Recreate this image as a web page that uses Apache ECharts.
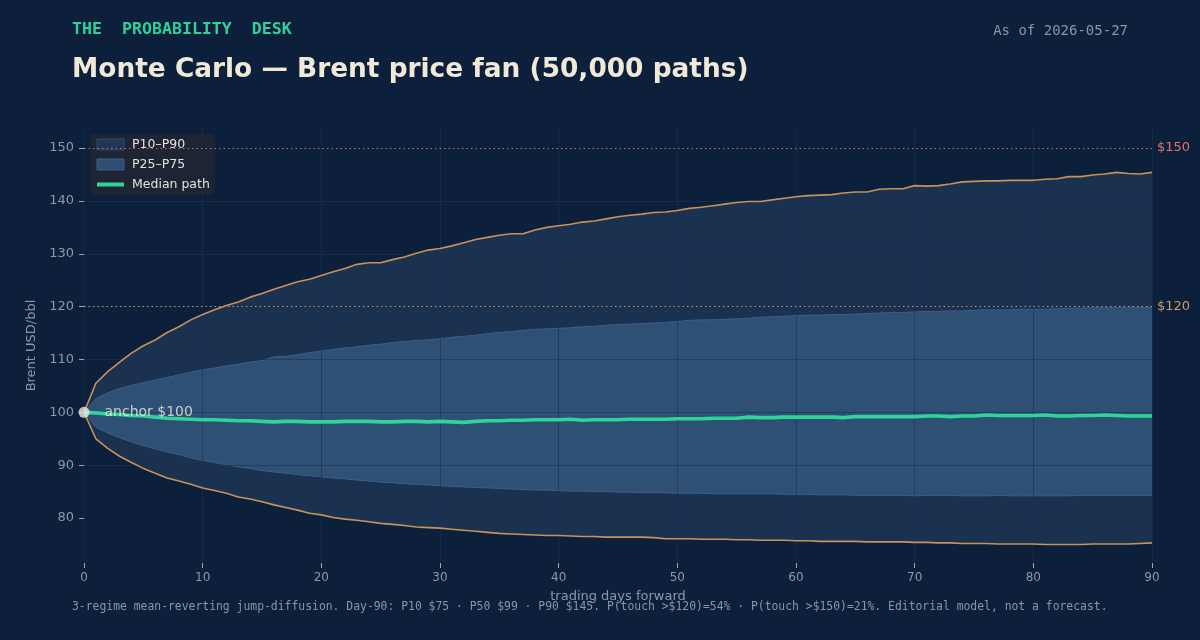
<!DOCTYPE html>
<html>
<head>
<meta charset="utf-8">
<title>Monte Carlo — Brent price fan</title>
<script src="https://cdn.jsdelivr.net/npm/echarts@6.0.0/dist/echarts.min.js"></script>
<style>
    html, body { margin: 0; padding: 0; background: #0c1f3b; }
    #fan-chart { width: 1200px; height: 640px; }
</style>
</head>
<body>
<div id="fan-chart"></div>
<script>
// trading days forward
var days = [0,1,2,3,4,5,6,7,8,9,10,11,12,13,14,15,16,17,18,19,20,21,22,23,24,25,26,27,28,29,30,
    31,32,33,34,35,36,37,38,39,40,41,42,43,44,45,46,47,48,49,50,51,52,53,54,55,56,57,58,59,60,
    61,62,63,64,65,66,67,68,69,70,71,72,73,74,75,76,77,78,79,80,81,82,83,84,85,86,87,88,89,90];

// percentile paths, USD/bbl
var p90 = [100.0,105.5,107.7,109.5,111.2,112.6,113.7,115.1,116.2,117.5,118.5,119.4,120.2,120.9,121.8,122.5,
    123.3,124.0,124.7,125.2,125.9,126.6,127.2,128.0,128.3,128.3,128.9,129.4,130.1,130.7,131.0,
    131.5,132.1,132.7,133.1,133.5,133.8,133.8,134.5,135.0,135.3,135.6,136.0,136.2,136.6,137.0,
    137.3,137.5,137.8,137.9,138.2,138.6,138.8,139.1,139.4,139.7,139.9,139.9,140.2,140.5,140.8,
    141.0,141.1,141.2,141.5,141.7,141.7,142.2,142.3,142.3,142.9,142.8,142.9,143.2,143.6,143.7,
    143.8,143.8,143.9,143.9,143.9,144.1,144.2,144.6,144.6,144.9,145.1,145.4,145.2,145.1,145.4];

var p75 = [100.0,102.6,103.7,104.5,105.1,105.6,106.1,106.6,107.1,107.6,108.0,108.4,108.8,109.1,109.5,109.8,
    110.5,110.6,110.9,111.3,111.6,111.9,112.2,112.4,112.7,112.9,113.2,113.4,113.6,113.7,113.9,
    114.2,114.4,114.6,114.9,115.1,115.3,115.5,115.7,115.8,115.9,116.0,116.2,116.3,116.5,116.6,
    116.7,116.8,116.9,117.0,117.2,117.4,117.5,117.5,117.6,117.7,117.8,118.0,118.1,118.2,118.3,
    118.4,118.4,118.5,118.5,118.6,118.7,118.8,118.9,118.9,119.0,119.1,119.1,119.2,119.2,119.3,
    119.4,119.4,119.4,119.5,119.5,119.5,119.6,119.7,119.7,119.8,119.8,119.8,119.9,119.9,119.9];

var p50 = [100.0,99.9,99.7,99.6,99.4,99.3,99.1,98.9,98.8,98.7,98.6,98.6,98.5,98.4,98.4,98.3,
    98.2,98.3,98.3,98.2,98.2,98.2,98.3,98.3,98.3,98.2,98.2,98.3,98.3,98.2,98.3,
    98.2,98.1,98.3,98.4,98.4,98.5,98.5,98.6,98.6,98.6,98.7,98.5,98.6,98.6,98.6,
    98.7,98.7,98.7,98.7,98.8,98.8,98.8,98.9,98.9,98.9,99.1,99.0,99.0,99.1,99.1,
    99.1,99.1,99.1,99.0,99.2,99.2,99.2,99.2,99.2,99.2,99.3,99.3,99.2,99.3,99.3,
    99.5,99.4,99.4,99.4,99.4,99.5,99.3,99.3,99.4,99.4,99.5,99.4,99.3,99.3,99.3];

var p25 = [100.0,97.2,96.1,95.2,94.4,93.7,93.1,92.5,92.0,91.4,90.9,90.5,90.1,89.7,89.4,89.0,
    88.7,88.5,88.2,88.0,87.8,87.6,87.4,87.2,87.0,86.8,86.7,86.5,86.4,86.3,86.1,
    86.0,85.9,85.8,85.7,85.6,85.5,85.4,85.3,85.3,85.2,85.1,85.1,85.0,85.0,84.9,
    84.9,84.8,84.8,84.8,84.7,84.7,84.7,84.6,84.6,84.6,84.6,84.6,84.6,84.5,84.5,
    84.5,84.4,84.4,84.4,84.3,84.3,84.3,84.3,84.3,84.2,84.3,84.3,84.3,84.2,84.2,
    84.2,84.3,84.2,84.2,84.2,84.2,84.2,84.2,84.3,84.3,84.3,84.3,84.3,84.3,84.3];

var p10 = [100.0,95.0,93.2,91.7,90.5,89.4,88.5,87.6,87.0,86.4,85.7,85.2,84.7,84.0,83.6,83.1,
    82.5,82.0,81.5,80.9,80.6,80.1,79.8,79.6,79.3,79.0,78.8,78.6,78.3,78.2,78.1,
    77.9,77.7,77.5,77.3,77.1,77.0,76.9,76.8,76.7,76.7,76.6,76.5,76.5,76.4,76.4,
    76.4,76.4,76.3,76.1,76.1,76.1,76.0,76.0,76.0,75.9,75.9,75.8,75.8,75.8,75.7,
    75.7,75.6,75.6,75.6,75.6,75.5,75.5,75.5,75.5,75.4,75.4,75.3,75.3,75.2,75.2,
    75.2,75.1,75.1,75.1,75.1,75.0,75.0,75.0,75.0,75.1,75.1,75.1,75.1,75.2,75.3];

var yTicks = [80, 90, 100, 110, 120, 130, 140, 150];
var thresholds = [150, 120];
var anchorPrice = 100;

var footNote = '3-regime mean-reverting jump-diffusion. Day-90: P10 $75 \u00b7 P50 $99 \u00b7 P90 $145. ' +
    'P(touch >$120)=54% \u00b7 P(touch >$150)=21%. Editorial model, not a forecast.';

// stacked widths for the two bands
var outerWidth = p90.map(function (v, i) { return +(v - p10[i]).toFixed(2); });
var innerWidth = p75.map(function (v, i) { return +(v - p25[i]).toFixed(2); });

var mono = '"DejaVu Sans Mono", monospace';
var sans = '"DejaVu Sans", sans-serif';
var axisGrey = '#8d99ab';
var gridLine = 'rgba(29,48,85,0.6)';

var fanChart = echarts.init(document.getElementById('fan-chart'), null, {renderer: 'canvas'});

var fanOption = {
    backgroundColor: '#0c1f3b',
    animation: false,
    graphic: [
        {
            type: 'text', x: 72, y: 30,
            style: {text: 'THE  PROBABILITY  DESK', fill: '#2fd19b', font: 'bold 16.6px ' + mono, verticalAlign: 'middle'}
        },
        {
            type: 'text', x: 1128, y: 31,
            style: {text: 'As of 2026-05-27', fill: '#8a96a8', font: '14px ' + mono, align: 'right', verticalAlign: 'middle'}
        },
        {
            type: 'text', x: 72, y: 70,
            style: {text: 'Monte Carlo \u2014 Brent price fan (50,000 paths)', fill: '#f0e9d8', font: 'bold 26.4px ' + sans, verticalAlign: 'middle'}
        },
        {
            type: 'text', x: 72, y: 607,
            style: {text: footNote, fill: '#8a96a8', font: '11.4px ' + mono, verticalAlign: 'middle'}
        }
    ],
    legend: {
        orient: 'vertical',
        left: 90,
        top: 134,
        padding: [4, 5, 4, 5],
        itemGap: 7,
        itemWidth: 27,
        itemHeight: 11,
        backgroundColor: 'rgba(31,38,52,0.9)',
        borderRadius: 4,
        textStyle: {color: '#e6e2d8', fontSize: 12.5, fontFamily: sans, padding: [0, 0, 0, 3]},
        data: [
            {name: 'P10\u2013P90', icon: 'rect', itemStyle: {color: '#1f3656', borderColor: '#2f4a6d', borderWidth: 1}},
            {name: 'P25\u2013P75', icon: 'rect', itemStyle: {color: '#2e4d72', borderColor: '#3d5f88', borderWidth: 1}},
            {name: 'Median path', itemStyle: {opacity: 0}, lineStyle: {width: 4, color: '#2fd49b'}}
        ]
    },
    grid: {
        left: 84,
        right: 48,
        top: 128,
        bottom: 77
    },
    xAxis: {
        type: 'category',
        data: days,
        boundaryGap: false,
        z: 3,
        name: 'trading days forward',
        nameLocation: 'middle',
        nameGap: 27,
        nameTextStyle: {color: axisGrey, fontSize: 13, fontFamily: sans},
        axisLine: {show: false},
        axisTick: {show: true, interval: 9, length: 5, lineStyle: {color: '#9aa5b5'}},
        axisLabel: {interval: 9, color: axisGrey, fontSize: 12, fontFamily: sans, margin: 9},
        splitLine: {show: true, interval: 9, lineStyle: {color: gridLine, width: 1}}
    },
    yAxis: {
        type: 'value',
        min: 71.5,
        max: 153.8,
        splitNumber: 8,
        z: 3,
        name: 'Brent USD/bbl',
        nameLocation: 'middle',
        nameGap: 34,
        nameTextStyle: {color: axisGrey, fontSize: 13, fontFamily: sans},
        axisLine: {show: false},
        axisTick: {show: true, length: 5, customValues: yTicks, lineStyle: {color: '#9aa5b5'}},
        axisLabel: {color: axisGrey, fontSize: 13, fontFamily: sans, margin: 10, customValues: yTicks},
        splitLine: {show: true, showMinLine: false, showMaxLine: false, lineStyle: {color: gridLine, width: 1}}
    },
    series: [
        {
            name: 'p10 base',
            type: 'line',
            stack: 'outer',
            data: p10,
            symbol: 'none',
            silent: true,
            lineStyle: {width: 0, opacity: 0},
            z: 1
        },
        {
            name: 'P10\u2013P90',
            type: 'line',
            stack: 'outer',
            data: outerWidth,
            symbol: 'none',
            silent: true,
            itemStyle: {color: '#1f3656'},
            lineStyle: {width: 0, opacity: 0},
            areaStyle: {color: '#1a3150', opacity: 1},
            z: 1
        },
        {
            name: 'p25 base',
            type: 'line',
            stack: 'inner',
            data: p25,
            symbol: 'none',
            silent: true,
            lineStyle: {width: 1, color: '#3a5f8a'},
            z: 2
        },
        {
            name: 'P25\u2013P75',
            type: 'line',
            stack: 'inner',
            data: innerWidth,
            symbol: 'none',
            silent: true,
            itemStyle: {color: '#2e4d72'},
            lineStyle: {width: 1, color: '#3a5f8a'},
            areaStyle: {color: '#2e5075', opacity: 1},
            z: 2
        },
        {
            name: 'P90',
            type: 'line',
            data: p90,
            symbol: 'none',
            silent: true,
            lineStyle: {width: 1.6, color: '#c8925a'},
            z: 4,
            markLine: {
                symbol: 'none',
                silent: true,
                lineStyle: {type: [1.5, 3], width: 1.2},
                label: {position: 'end', distance: 5, fontSize: 13, fontFamily: sans},
                data: [
                    {yAxis: thresholds[0], lineStyle: {color: '#d66a60'}, label: {formatter: '$150', color: '#e0766b'}},
                    {yAxis: thresholds[1], lineStyle: {color: '#c8925a'}, label: {formatter: '$120', color: '#d09a62'}}
                ]
            }
        },
        {
            name: 'P10',
            type: 'line',
            data: p10,
            symbol: 'none',
            silent: true,
            lineStyle: {width: 1.6, color: '#c8925a'},
            z: 4
        },
        {
            name: 'Median path',
            type: 'line',
            data: p50,
            symbol: 'none',
            silent: true,
            itemStyle: {color: '#2fd49b'},
            lineStyle: {width: 3.6, color: '#2fd49b'},
            z: 5
        },
        {
            name: 'anchor',
            type: 'scatter',
            data: [[0, anchorPrice]],
            symbolSize: 11,
            silent: true,
            itemStyle: {color: '#f0ebdd'},
            label: {
                show: true,
                position: 'right',
                distance: 15,
                formatter: 'anchor $100',
                color: '#f0ebdd',
                fontSize: 14,
                fontFamily: sans
            },
            z: 6
        }
    ]
};

fanChart.setOption(fanOption);
</script>
</body>
</html>
